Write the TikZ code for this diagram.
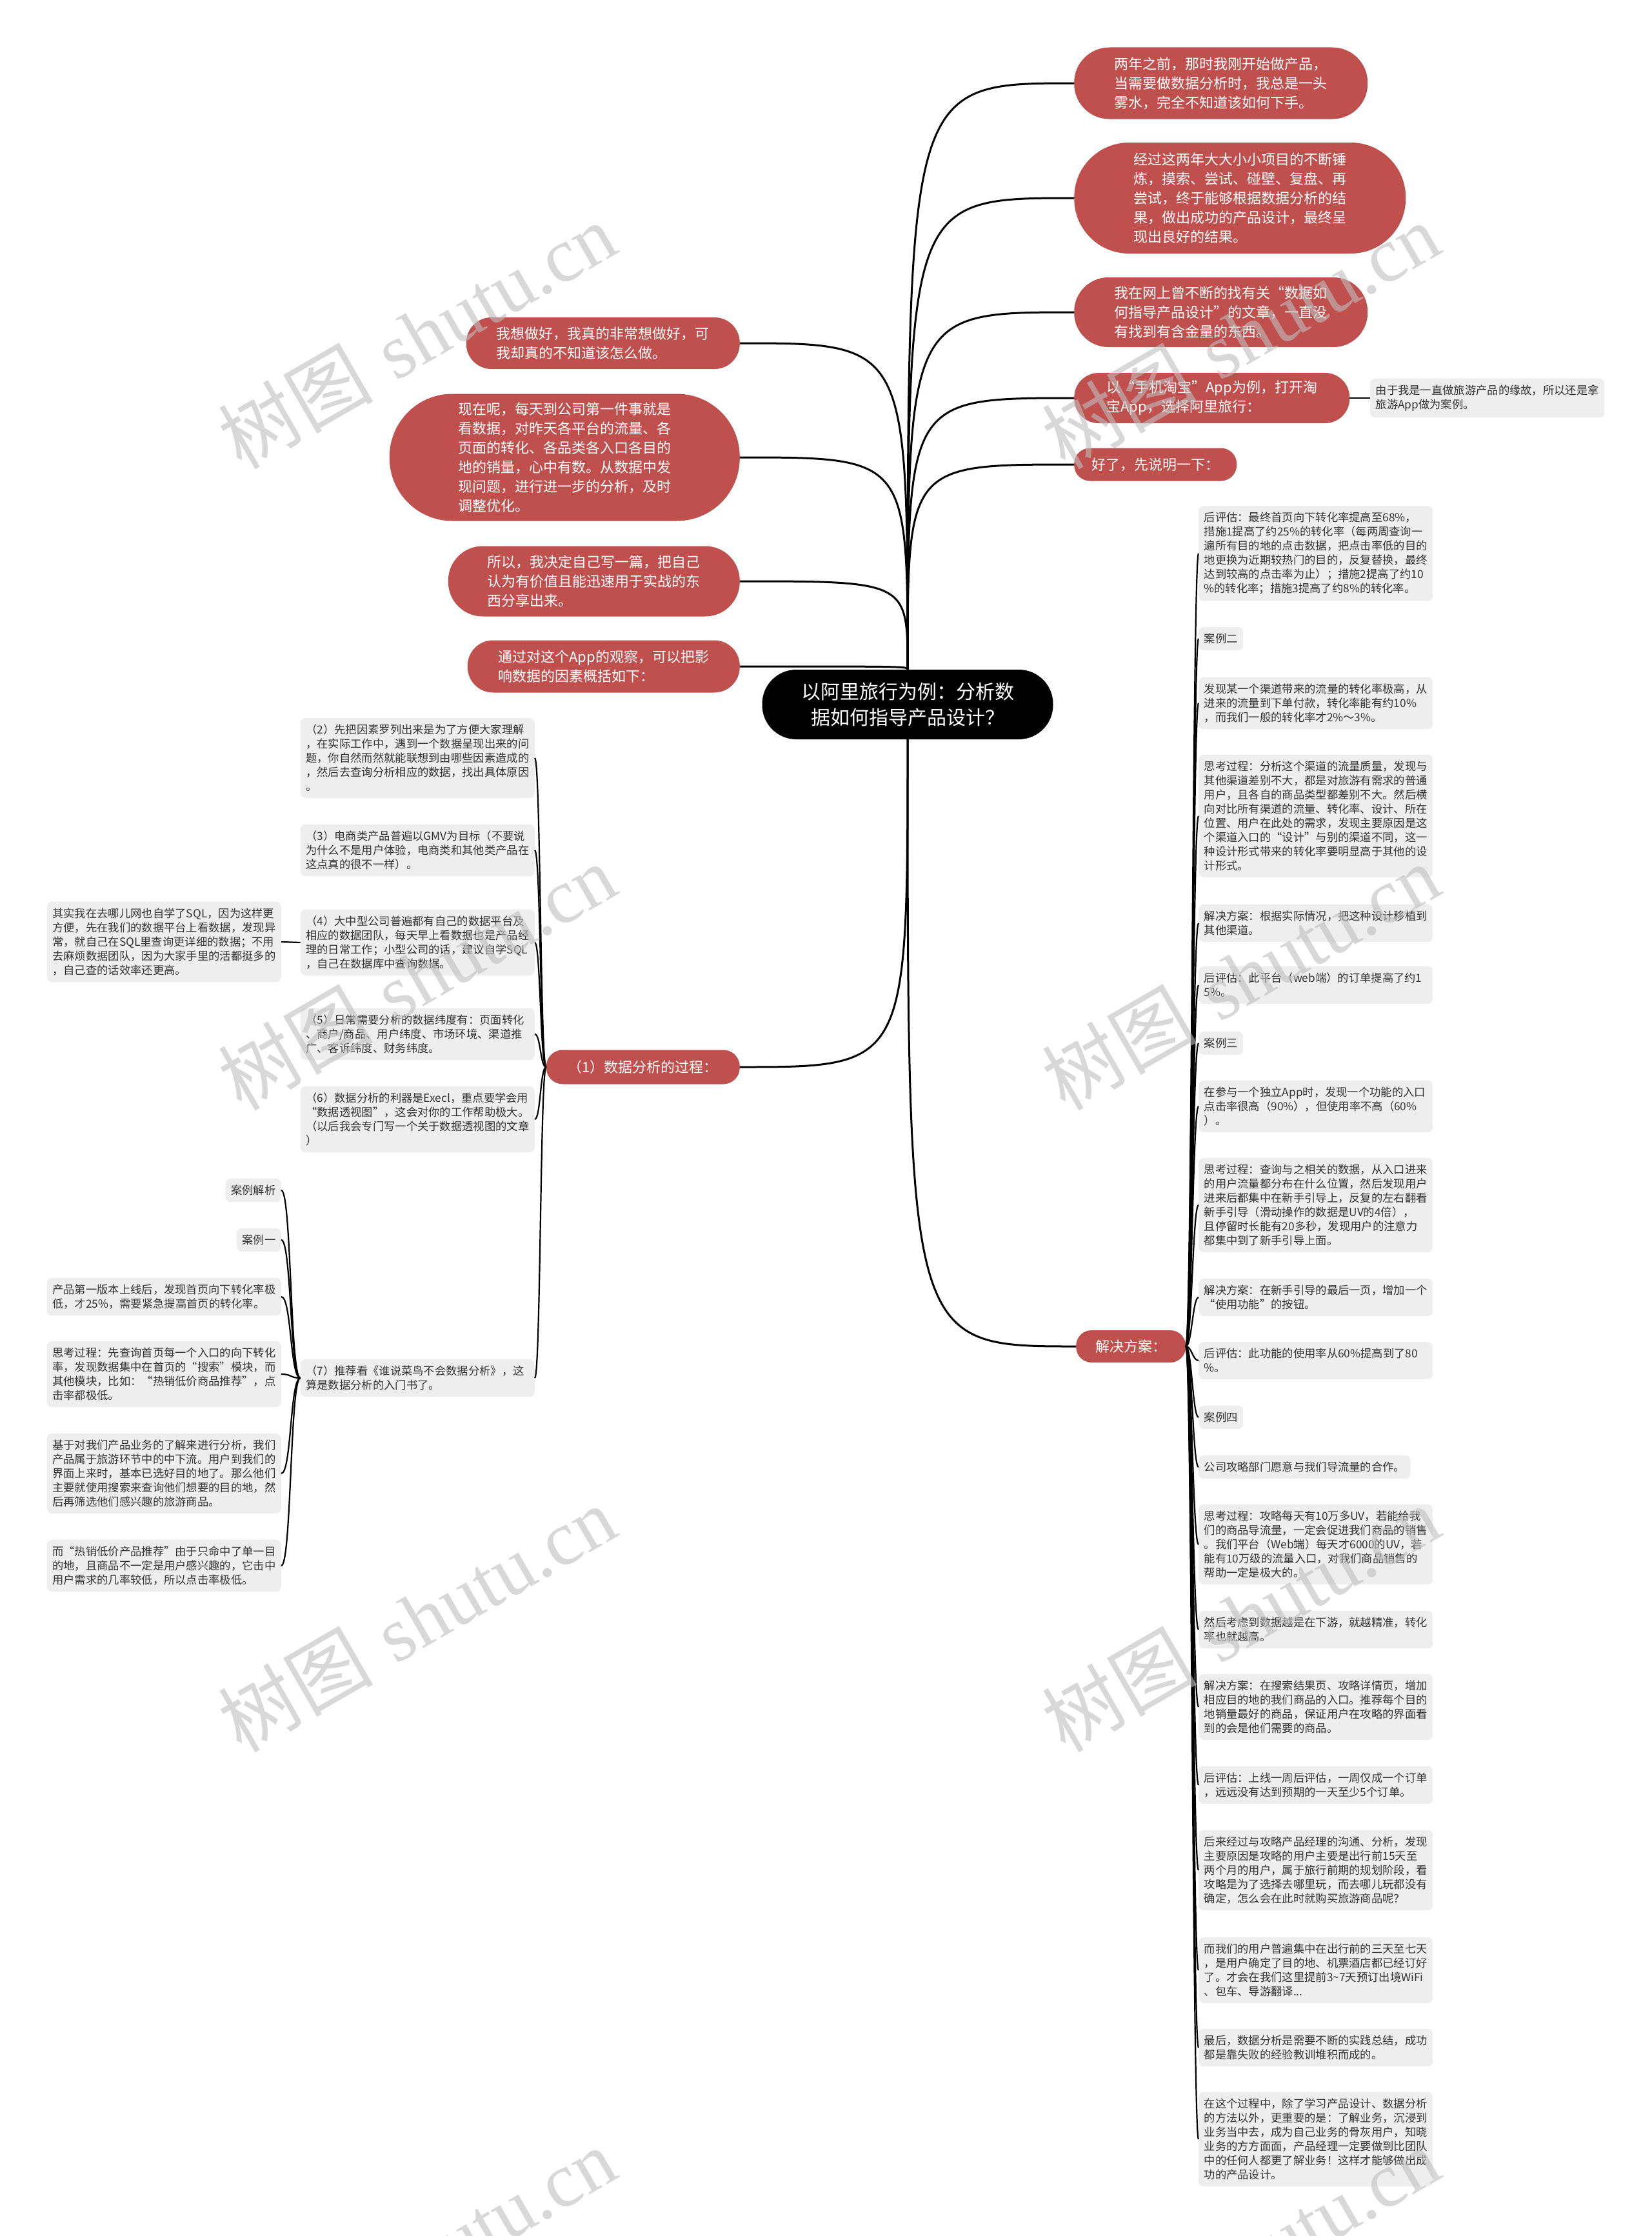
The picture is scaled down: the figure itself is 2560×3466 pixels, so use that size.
\documentclass[tikz,border=0pt]{standalone}
\usepackage{fontspec}
\usepackage{xcolor}
\usepackage{tikz}
\usetikzlibrary{positioning}
\newfontfamily\cjk{Noto Sans CJK SC}
\newfontfamily\wmserif{Liberation Serif}
\definecolor{nodered}{RGB}{192,80,77}
\definecolor{boxgray}{RGB}{238,238,238}
\definecolor{boxtext}{RGB}{51,51,51}
\hyphenpenalty=10000
\exhyphenpenalty=10000

\begin{document}
\begin{tikzpicture}[
  x=1pt, y=-1pt,
  rootpill/.style 2 args={rectangle, fill=black, text=white, align=center,
    font=\cjk\fontsize{30pt}{40pt}\selectfont, inner sep=0pt,
    minimum width=#1, minimum height=#2, rounded corners={#2/2-1pt}},
  redpill/.style 2 args={rectangle, fill=nodered, text=white, align=left,
    font=\cjk\fontsize{22pt}{30pt}\selectfont, inner sep=0pt,
    minimum width=#1, minimum height=#2, rounded corners={#2/2-1pt}},
  graybox/.style={rectangle, rounded corners=8pt, fill=boxgray, text=boxtext, align=left,
    font=\cjk\fontsize{17.3pt}{22pt}\selectfont, inner xsep=8.5pt, inner ysep=10pt},
  wide/.style={graybox, text width=346pt},
  branch/.style={line width=3pt},
  twig/.style={line width=2.2pt},
  watermark/.style={rotate=30, text=black!25, opacity=0.6,
    font=\fontsize{120pt}{120pt}\selectfont}
]
\fill[white] (0,0) rectangle (2560,3466);
\useasboundingbox (0,0) rectangle (2560,3466);

% centre
\node[rootpill={451pt}{108pt}] (root) at (1407,1092) {以阿里旅行为例：分析数\\据如何指导产品设计？};

% right side
\node[redpill={455pt}{111pt}, anchor=west] (r1) at (1665,129) {两年之前，那时我刚开始做产品，\\当需要做数据分析时，我总是一头\\雾水，完全不知道该如何下手。};
\node[redpill={514pt}{172pt}, anchor=west] (r2) at (1665,307) {经过这两年大大小小项目的不断锤\\炼，摸索、尝试、碰壁、复盘、再\\尝试，终于能够根据数据分析的结\\果，做出成功的产品设计，最终呈\\现出良好的结果。};
\node[redpill={455pt}{108pt}, anchor=west] (r3) at (1665,484) {我在网上曾不断的找有关“数据如\\何指导产品设计”的文章，一直没\\有找到有含金量的东西。};
\node[redpill={427pt}{78pt}, anchor=west] (r4) at (1665,617) {以“手机淘宝”App为例，打开淘\\宝App，选择阿里旅行：};
\node[redpill={252pt}{51pt}, anchor=west] (r5) at (1665,720) {好了，先说明一下：};
\node[wide, anchor=west] (n4) at (2124,617) {由于我是一直做旅游产品的缘故，所以还是拿\\旅游App做为案例。};
\node[redpill={170pt}{50pt}, anchor=west] (sol) at (1668,2087) {解决方案：};

% left side
\node[redpill={424pt}{80pt}, anchor=east] (l1) at (1147,532) {我想做好，我真的非常想做好，可\\我却真的不知道该怎么做。};
\node[redpill={543pt}{197pt}, anchor=east] (l2) at (1147,709) {现在呢，每天到公司第一件事就是\\看数据，对昨天各平台的流量、各\\页面的转化、各品类各入口各目的\\地的销量，心中有数。从数据中发\\现问题，进行进一步的分析，及时\\调整优化。};
\node[redpill={452pt}{109pt}, anchor=east] (l3) at (1147,901) {所以，我决定自己写一篇，把自己\\认为有价值且能迅速用于实战的东\\西分享出来。};
\node[redpill={422pt}{81pt}, anchor=east] (l4) at (1147,1033) {通过对这个App的观察，可以把影\\响数据的因素概括如下：};
\node[redpill={300pt}{53pt}, anchor=east] (p1) at (1147,1654) {（1）数据分析的过程：};

\node[wide, anchor=east] (g2) at (829,1175) {（2）先把因素罗列出来是为了方便大家理解\\，在实际工作中，遇到一个数据呈现出来的问\\题，你自然而然就能联想到由哪些因素造成的\\，然后去查询分析相应的数据，找出具体原因\\。};
\node[wide, anchor=east] (g3) at (829,1318) {（3）电商类产品普遍以GMV为目标（不要说\\为什么不是用户体验，电商类和其他类产品在\\这点真的很不一样）。};
\node[wide, anchor=east] (g4) at (829,1461) {（4）大中型公司普遍都有自己的数据平台及\\相应的数据团队，每天早上看数据也是产品经\\理的日常工作；小型公司的话，建议自学SQL\\，自己在数据库中查询数据。};
\node[wide, anchor=east] (g5) at (829,1603) {（5）日常需要分析的数据纬度有：页面转化\\、商户/商品、用户纬度、市场环境、渠道推\\广、客诉纬度、财务纬度。};
\node[wide, anchor=east] (g6) at (829,1735) {（6）数据分析的利器是Execl，重点要学会用\\“数据透视图”，这会对你的工作帮助极大。\\（以后我会专门写一个关于数据透视图的文章\\）};
\node[wide, anchor=east] (g7) at (829,2136) {（7）推荐看《谁说菜鸟不会数据分析》，这\\算是数据分析的入门书了。};
\node[wide, anchor=east] (sql) at (436,1460) {其实我在去哪儿网也自学了SQL，因为这样更\\方便，先在我们的数据平台上看数据，发现异\\常，就自己在SQL里查询更详细的数据；不用\\去麻烦数据团队，因为大家手里的活都挺多的\\，自己查的话效率还更高。};

\node[graybox, anchor=east] (k1) at (436,1845) {案例解析};
\node[graybox, anchor=east] (k2) at (436,1922) {案例一};
\node[wide, anchor=east] (k3) at (436,2010) {产品第一版本上线后，发现首页向下转化率极\\低，才25\%，需要紧急提高首页的转化率。};
\node[wide, anchor=east] (k4) at (436,2130) {思考过程：先查询首页每一个入口的向下转化\\率，发现数据集中在首页的“搜索”模块，而\\其他模块，比如：“热销低价商品推荐”，点\\击率都极低。};
\node[wide, anchor=east] (k5) at (436,2284) {基于对我们产品业务的了解来进行分析，我们\\产品属于旅游环节中的中下流。用户到我们的\\界面上来时，基本已选好目的地了。那么他们\\主要就使用搜索来查询他们想要的目的地，然\\后再筛选他们感兴趣的旅游商品。};
\node[wide, anchor=east] (k6) at (436,2427) {而“热销低价产品推荐”由于只命中了单一目\\的地，且商品不一定是用户感兴趣的，它击中\\用户需求的几率较低，所以点击率极低。};

% solution column
\node[wide, anchor=west] (c1) at (1858,858) {后评估：最终首页向下转化率提高至68\%，\\措施1提高了约25\%的转化率（每两周查询一\\遍所有目的地的点击数据，把点击率低的目的\\地更换为近期较热门的目的，反复替换，最终\\达到较高的点击率为止）；措施2提高了约10\\ \%的转化率；措施3提高了约8\%的转化率。};
\node[graybox, anchor=west] (c2) at (1858,990) {案例二};
\node[wide, anchor=west] (c3) at (1858,1090) {发现某一个渠道带来的流量的转化率极高，从\\进来的流量到下单付款，转化率能有约10\%\\，而我们一般的转化率才2\%～3\%。};
\node[wide, anchor=west] (c4) at (1858,1265) {思考过程：分析这个渠道的流量质量，发现与\\其他渠道差别不大，都是对旅游有需求的普通\\用户，且各自的商品类型都差别不大。然后横\\向对比所有渠道的流量、转化率、设计、所在\\位置、用户在此处的需求，发现主要原因是这\\个渠道入口的“设计”与别的渠道不同，这一\\种设计形式带来的转化率要明显高于其他的设\\计形式。};
\node[wide, anchor=west] (c5) at (1858,1431) {解决方案：根据实际情况，把这种设计移植到\\其他渠道。};
\node[wide, anchor=west] (c6) at (1858,1527) {后评估：此平台（web端）的订单提高了约1\\5\%。};
\node[graybox, anchor=west] (c7) at (1858,1617) {案例三};
\node[wide, anchor=west] (c8) at (1858,1715) {在参与一个独立App时，发现一个功能的入口\\点击率很高（90\%），但使用率不高（60\%\\）。};
\node[wide, anchor=west] (c9) at (1858,1868) {思考过程：查询与之相关的数据，从入口进来\\的用户流量都分布在什么位置，然后发现用户\\进来后都集中在新手引导上，反复的左右翻看\\新手引导（滑动操作的数据是UV的4倍），\\且停留时长能有20多秒，发现用户的注意力\\都集中到了新手引导上面。};
\node[wide, anchor=west] (c10) at (1858,2011) {解决方案：在新手引导的最后一页，增加一个\\“使用功能”的按钮。};
\node[wide, anchor=west] (c11) at (1858,2109) {后评估：此功能的使用率从60\%提高到了80\\ \%。};
\node[graybox, anchor=west] (c12) at (1858,2197) {案例四};
\node[graybox, anchor=west] (c13) at (1858,2274) {公司攻略部门愿意与我们导流量的合作。};
\node[wide, anchor=west] (c14) at (1858,2394) {思考过程：攻略每天有10万多UV，若能给我\\们的商品导流量，一定会促进我们商品的销售\\。我们平台（Web端）每天才6000的UV，若\\能有10万级的流量入口，对我们商品销售的\\帮助一定是极大的。};
\node[wide, anchor=west] (c15) at (1858,2526) {然后考虑到数据越是在下游，就越精准，转化\\率也就越高。};
\node[wide, anchor=west] (c16) at (1858,2646) {解决方案：在搜索结果页、攻略详情页，增加\\相应目的地的我们商品的入口。推荐每个目的\\地销量最好的商品，保证用户在攻略的界面看\\到的会是他们需要的商品。};
\node[wide, anchor=west] (c17) at (1858,2767) {后评估：上线一周后评估，一周仅成一个订单\\，远远没有达到预期的一天至少5个订单。};
\node[wide, anchor=west] (c18) at (1858,2899) {后来经过与攻略产品经理的沟通、分析，发现\\主要原因是攻略的用户主要是出行前15天至\\两个月的用户，属于旅行前期的规划阶段，看\\攻略是为了选择去哪里玩，而去哪儿玩都没有\\确定，怎么会在此时就购买旅游商品呢？};
\node[wide, anchor=west] (c19) at (1858,3054) {而我们的用户普遍集中在出行前的三天至七天\\，是用户确定了目的地、机票酒店都已经订好\\了。才会在我们这里提前3\textasciitilde{}7天预订出境WiFi\\、包车、导游翻译...};
\node[wide, anchor=west] (c20) at (1858,3174) {最后，数据分析是需要不断的实践总结，成功\\都是靠失败的经验教训堆积而成的。};
\node[wide, anchor=west] (c21) at (1858,3316) {在这个过程中，除了学习产品设计、数据分析\\的方法以外，更重要的是：了解业务，沉浸到\\业务当中去，成为自己业务的骨灰用户，知晓\\业务的方方面面，产品经理一定要做到比团队\\中的任何人都更了解业务！这样才能够做出成\\功的产品设计。};

% connectors
\foreach \n in {r1,r2,r3,r4,r5}
  \draw[branch] (root.north) .. controls (root.north |- \n.west) .. (\n.west);
\foreach \n in {l1,l2,l3,l4}
  \draw[branch] (root.north) .. controls (root.north |- \n.east) .. (\n.east);
\draw[branch] (root.south) .. controls (root.south |- sol.west) .. (sol.west);
\draw[branch] (root.south) .. controls (root.south |- p1.east) .. (p1.east);
\draw[twig] (r4.east) -- (n4.west);
\foreach \i in {2,...,7}
  \draw[twig] (p1.west) .. controls +(-9pt,0) and +(9pt,0) .. (g\i.east);
\draw[twig] (g4.west) -- (sql.east);
\foreach \i in {1,...,6}
  \draw[twig] (g7.west) .. controls +(-16pt,0) and +(16pt,0) .. (k\i.east);
\foreach \i in {1,...,21}
  \draw[twig] (sol.east) .. controls +(9pt,0) and +(-9pt,0) .. (c\i.west);

% watermarks
\foreach \wx in {646,1923}
  \foreach \wy in {520,1514,2509,3504}
    \node[watermark] (wm-\wx-\wy) at (\wx,\wy) {{\cjk 树图} {\wmserif shutu.cn}};
\end{tikzpicture}
\end{document}
